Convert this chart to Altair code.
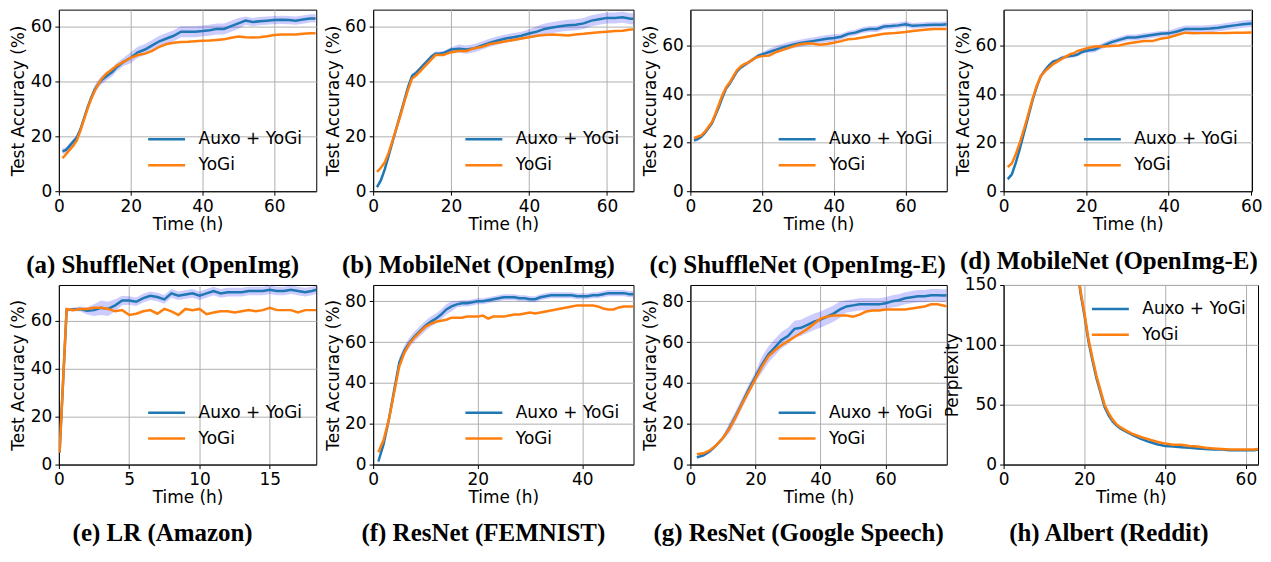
import altair as alt
import pandas as pd

BLUE = "#1f77b4"
ORANGE = "#ff7f0e"
SERIES = ["Auxo + YoGi", "YoGi"]

# (a) ShuffleNet (OpenImg)
a_x = [1, 2, 3, 4, 5, 6, 7, 8, 9, 10, 11, 12, 13, 14, 15, 16, 18, 20, 22, 24, 26, 28, 30, 32, 34, 36, 38,
       40, 42, 44, 46, 48, 50, 52, 54, 56, 58, 60, 62, 64, 66, 68, 70, 71.5]
a_auxo = [14.5, 15, 16.5, 18, 19.5, 22.5, 26.5, 30.5, 34, 37, 39, 40.5, 41.5, 42.5, 43.5, 45, 47, 48.5, 50.5,
          51.5, 53, 54.5, 55.5, 56.5, 58, 58, 58, 58.2, 58.5, 59, 59, 60, 61, 62, 61.5, 61.8, 62, 62.2, 62.3,
          62.2, 62, 62.4, 62.8, 62.8]
a_yogi = [12, 13.5, 15, 16.5, 18.5, 22, 26, 30, 33.5, 36.5, 39, 41, 42.5, 43.5, 44.5, 45.5, 47, 48.5, 49.5,
          50, 51, 52.5, 53.5, 54, 54.2, 54.3, 54.5, 54.7, 54.8, 55, 55.2, 55.8, 56.2, 56, 55.9, 56, 56.3, 56.8,
          57, 57, 57, 57.2, 57.4, 57.4]
a_band = [1] * 9 + [1.5] * 8 + [2] * 16 + [1.5] * 11

# (b) MobileNet (OpenImg)
b_x = [1, 2, 3, 4, 5, 6, 7, 8, 9, 10, 11, 12, 13, 14, 15, 16, 17, 18, 19, 20, 22, 24, 26, 28, 30, 32, 34,
       36, 38, 40, 42, 44, 46, 48, 50, 52, 54, 56, 58, 60, 62, 64, 66, 66.8]
b_auxo = [1.5, 4, 8, 13, 18, 23, 28, 33, 38, 42, 43, 44.5, 46, 47.5, 49, 50, 50, 50.2, 50.8, 51.5, 51.8,
          51.5, 52, 53, 54, 54.8, 55.5, 56, 56.5, 57.3, 58, 59, 59.5, 60, 60.3, 60.5, 61, 62, 62.5, 63, 63,
          63.2, 62.7, 62.7]
b_yogi = [7, 8.5, 10.5, 14, 18.5, 23, 27.5, 32.5, 37, 41, 42, 43.5, 45, 46.5, 48, 49.5, 49.5, 49.5, 50,
          50.5, 51, 51, 52, 52.5, 53.5, 54, 54.5, 55, 55.5, 56, 56.5, 56.8, 57, 56.8, 56.6, 57, 57.2, 57.5,
          57.8, 58, 58.2, 58.3, 58.8, 58.8]
b_band = [0.8] * 20 + [1.5] * 10 + [2] * 14

# (c) ShuffleNet (OpenImg-E)
c_x = [1, 2, 3, 4, 5, 6, 7, 8, 9, 10, 11, 12, 13, 14, 15, 16, 17, 18, 19, 20, 22, 24, 26, 28, 30, 32, 34,
       36, 38, 40, 42, 44, 46, 48, 50, 52, 54, 56, 58, 60, 62, 64, 66, 68, 70, 71.5]
c_auxo = [21, 21.5, 22.5, 24, 26, 28, 31.5, 35, 39, 42.5, 44.5, 47, 49.5, 51, 52, 53, 54, 55, 56, 56.5,
          57.5, 58.5, 59.5, 60.3, 61, 61.5, 62, 62.5, 63, 63.3, 63.8, 65, 65.5, 66.5, 67, 67, 68, 68.2, 68.5,
          69, 68.3, 68.5, 68.7, 68.8, 68.8, 69]
c_yogi = [22, 22.5, 23, 24.5, 26.5, 28.5, 32, 36, 40, 43, 45, 47.5, 50, 51.5, 52.5, 53, 54, 55, 55.5, 55.8,
          56, 57.5, 58.5, 59.5, 60.5, 61, 61, 60.5, 60.8, 61.3, 62, 62.8, 63, 63.5, 64, 64.5, 65, 65.2, 65.5,
          65.8, 66.2, 66.5, 66.8, 67, 67, 67]
c_band = [0.8] * 20 + [1.5] * 10 + [1.2] * 16

# (d) MobileNet (OpenImg-E)
d_x = [1, 2, 3, 4, 5, 6, 7, 8, 9, 10, 11, 12, 13, 14, 15, 16, 17, 18, 19, 20, 22, 24, 26, 28, 30, 32, 34,
       36, 38, 40, 42, 44, 46, 48, 50, 52, 54, 56, 58, 60, 60.2]
d_auxo = [5, 7, 12, 18, 24.5, 31, 37.5, 43, 47.5, 50, 52, 53.5, 54, 55, 55.5, 55.8, 56, 56.5, 57.5, 58,
          58.5, 60, 61.5, 62.5, 63.5, 63.5, 64, 64.5, 65, 65.2, 66, 67, 67, 67, 67.2, 67.5, 68, 68.5, 69,
          69.3, 69.3]
d_yogi = [10, 11.5, 15.5, 20.5, 26, 32, 38, 43.5, 47.5, 49.5, 51, 52.5, 53.5, 54.5, 55.5, 56.5, 57, 58,
          58.5, 59, 59.8, 59.8, 60, 60.2, 61, 61.5, 62, 62, 63, 63.5, 64.5, 65.5, 65.2, 65.3, 65.4, 65.3,
          65.4, 65.5, 65.5, 65.6, 65.6]
d_band = [0.8] * 20 + [1.2] * 10 + [1.5] * 11

# (e) LR (Amazon)
e_x = [0.05, 0.55, 1, 1.5, 2, 2.5, 3, 3.5, 4, 4.5, 5, 5.5, 6, 6.5, 7, 7.5, 8, 8.5, 9, 9.5, 10, 10.5, 11,
       11.5, 12, 12.5, 13, 13.5, 14, 14.5, 15, 15.5, 16, 16.5, 17, 17.5, 18, 18.3]
e_auxo = [5, 64.5, 64.8, 65, 64.2, 64.5, 65.5, 65, 66.5, 68.5, 68.5, 68, 69.5, 70.5, 70, 69, 71.5, 70.5,
          71, 71.5, 70.5, 71.5, 72.5, 71.5, 72, 72, 72, 72.5, 72.5, 72.5, 73, 72.5, 72.5, 73, 72.5, 72,
          72.5, 73]
e_yogi = [5, 65, 64.5, 65, 65, 65.5, 65.5, 65, 64, 64.5, 62.5, 63, 64, 64.5, 63, 65, 64, 62.5, 65, 64.5,
          65, 62.8, 63.5, 64, 64, 63.5, 64, 64.5, 64, 64.5, 65.5, 64.5, 64.5, 64.5, 63.5, 64.5, 64.5, 64.5]
e_band = [0, 0.5, 0.8, 1, 1.5, 2.5, 3, 3, 2.5, 2] + [1.8] * 28

# (f) ResNet (FEMNIST)
f_x = list(range(1, 50)) + [49.8]
f_auxo = [1.5, 10, 22, 36, 50, 56, 60, 63, 65.5, 68, 70, 71.5, 73.5, 76, 77.5, 78.5, 79, 79, 79.5, 80, 80,
          80.5, 81, 81.5, 82, 82, 82, 81.5, 81.5, 81, 81, 82, 82.5, 83, 83, 83, 83, 83, 82.5, 82.5, 82.5,
          83, 83, 83.5, 84, 84, 84, 84, 83.5, 83.5]
f_yogi = [6, 12, 22, 35, 48, 55, 59.5, 62.5, 65, 67.5, 69, 70, 70.5, 71, 72, 72, 72, 72.5, 72.5, 72.5, 73,
          71.5, 72.5, 72.5, 72.5, 73, 73.5, 73.5, 74, 74.5, 74, 74.5, 75, 75.5, 76, 76.5, 77, 77.5, 78, 78,
          78, 78, 77.5, 76.5, 76, 76, 77, 77.5, 77.5, 77.5]
f_band = [1] * 4 + [2.5] * 11 + [1.5] * 35

# (g) ResNet (Google Speech)
g_x = list(range(2, 79, 2)) + [78.8]
g_auxo = [3.5, 4.5, 6.5, 9.5, 13, 18, 24, 30.5, 37, 43, 49, 54, 57.5, 61, 63, 66.5, 67, 68.5, 70, 71, 72.5,
          74, 76, 77.5, 78, 78.5, 78.5, 78.5, 78.5, 79, 80, 80.5, 81.5, 82, 82.5, 82.5, 83, 83, 82.8, 83]
g_yogi = [5, 5.5, 7, 9.5, 13, 17.5, 23.5, 30, 36, 42, 48, 53, 56, 58.5, 60.5, 62.5, 64.5, 66.5, 69, 71.5,
          72.5, 73, 73, 73, 72.5, 73.5, 75, 75.5, 75.5, 76, 76, 76, 76, 76.5, 77, 77.5, 78.5, 78.5, 77.8,
          77.5]
g_band = [0.8] * 5 + [2.5] * 5 + [4] * 13 + [3] * 17

# (h) Albert (Reddit)
h_x = [18, 19, 20, 21, 22, 23, 24, 25, 26, 27, 28, 29, 30, 32, 34, 36, 38, 40, 42, 44, 46, 48, 50, 52, 54,
       56, 58, 60, 62, 63]
h_auxo = [175, 144, 125, 103, 87, 72, 60, 48, 41, 36, 32.5, 30, 28, 24.5, 21.5, 19, 17, 15.5, 15, 14.5, 14,
          13.5, 13, 12.5, 12.5, 12, 12, 12, 12, 12.5]
h_yogi = [176, 146, 127, 105, 89, 74, 62, 50, 43, 37.5, 33.5, 31, 29, 25.5, 23, 21, 19, 17.5, 16.5, 16.5,
          15.5, 15, 14, 13.5, 13, 12.5, 12.5, 12.5, 12.5, 13]


def panel(x, auxo, yogi, band, xmax, ymax, xticks, yticks, ytitle, caption,
          width, height, legend_orient, legend_offset, extent, cap_offset, cap_dx):
    xs = alt.Scale(domain=[0, xmax], nice=False, zero=False)
    ys = alt.Scale(domain=[0, ymax], nice=False, zero=False)
    xax = alt.Axis(title="Time (h)", values=xticks, labelFlush=False, format="d")
    yax = alt.Axis(title=ytitle, values=yticks, minExtent=extent, maxExtent=extent, format="d")
    color = alt.Color(
        "series:N",
        scale=alt.Scale(domain=SERIES, range=[BLUE, ORANGE]),
        legend=alt.Legend(title=None, orient=legend_orient, offset=legend_offset),
    )
    layers = []
    if band is not None:
        bdf = pd.DataFrame({
            "x": x,
            "lo": [v - w for v, w in zip(auxo, band)],
            "hi": [v + w for v, w in zip(auxo, band)],
        })
        layers.append(
            alt.Chart(bdf).mark_area(color="#0000ff", opacity=0.2, clip=True).encode(
                x=alt.X("x:Q", scale=xs, axis=xax),
                y=alt.Y("lo:Q", scale=ys, axis=yax),
                y2="hi:Q",
            )
        )
    for name, vals in zip(SERIES, [auxo, yogi]):
        df = pd.DataFrame({"x": x, "y": vals, "series": [name] * len(x)})
        layers.append(
            alt.Chart(df).mark_line(strokeWidth=2.5, clip=True).encode(
                x=alt.X("x:Q", scale=xs, axis=xax),
                y=alt.Y("y:Q", scale=ys, axis=yax),
                color=color,
            )
        )
    return alt.layer(*layers).properties(
        width=width,
        height=height,
        title=alt.TitleParams(
            caption, orient="bottom", anchor="middle", font="Liberation Serif",
            fontSize=25, fontWeight="bold", color="black", offset=cap_offset, dx=cap_dx,
        ),
    )


acc = "Test Accuracy (%)"
pa = panel(a_x, a_auxo, a_yogi, a_band, 71.7, 66, [0, 20, 40, 60], [0, 20, 40, 60], acc,
           "(a) ShuffleNet (OpenImg)", 258, 182, "bottom-right", 14, 29, 21, -25)
pb = panel(b_x, b_auxo, b_yogi, b_band, 66.8, 66, [0, 20, 40, 60], [0, 20, 40, 60], acc,
           "(b) MobileNet (OpenImg)", 261, 182, "bottom-right", 14, 29, 21, -25)
pc = panel(c_x, c_auxo, c_yogi, c_band, 71.5, 75, [0, 20, 40, 60], [0, 20, 40, 60], acc,
           "(c) ShuffleNet (OpenImg-E)", 257, 182, "bottom-right", 14, 29, 21, -21)
pd_ = panel(d_x, d_auxo, d_yogi, d_band, 60.2, 75, [0, 20, 40, 60], [0, 20, 40, 60], acc,
            "(d) MobileNet (OpenImg-E)", 249, 182, "bottom-right", 14, 29, 17, -19)
pe = panel(e_x, e_auxo, e_yogi, e_band, 18.3, 75, [0, 5, 10, 15], [0, 20, 40, 60], acc,
           "(e) LR (Amazon)", 258, 180, "bottom-right", 14, 29, 16, -25)
pf = panel(f_x, f_auxo, f_yogi, f_band, 49.8, 88, [0, 20, 40], [0, 20, 40, 60, 80], acc,
           "(f) ResNet (FEMNIST)", 261, 180, "bottom-right", 14, 29, 16, -20)
pg = panel(g_x, g_auxo, g_yogi, g_band, 78.8, 88, [0, 20, 40, 60], [0, 20, 40, 60, 80], acc,
           "(g) ResNet (Google Speech)", 257, 180, "bottom-right", 14, 29, 16, -20)
ph = panel(h_x, h_auxo, h_yogi, None, 63, 150, [0, 20, 40, 60], [0, 50, 100, 150], "Perplexity",
           "(h) Albert (Reddit)", 255, 180, "top-right", 12, 40, 16, -22)

chart = (
    alt.concat(pa, pb, pc, pd_, pe, pf, pg, ph, columns=4,
               spacing={"row": 94, "column": 57}, bounds="flush")
    .resolve_scale(color="independent")
    .properties(padding={"left": 1, "top": 0, "right": 0, "bottom": 0}, background="white")
    .configure_view(stroke="black", strokeWidth=1)
    .configure_axis(
        labelFont="DejaVu Sans", labelFontSize=17, labelColor="black",
        titleFont="DejaVu Sans", titleFontSize=17, titleFontWeight="normal", titleColor="black",
        tickColor="black", tickSize=4, tickWidth=1, domainColor="black", domainWidth=1,
        gridColor="#b0b0b0", gridWidth=1, labelPadding=3, titlePadding=2,
    )
    .configure_legend(
        labelFont="DejaVu Sans", labelFontSize=17, labelColor="black",
        symbolType="stroke", symbolStrokeWidth=2.5, symbolSize=1369,
        labelOffset=12, clipHeight=24, rowPadding=2, padding=0,
        labelLimit=300,
    )
)

chart.save("out.html", embed_options={"renderer": "svg", "actions": False})
